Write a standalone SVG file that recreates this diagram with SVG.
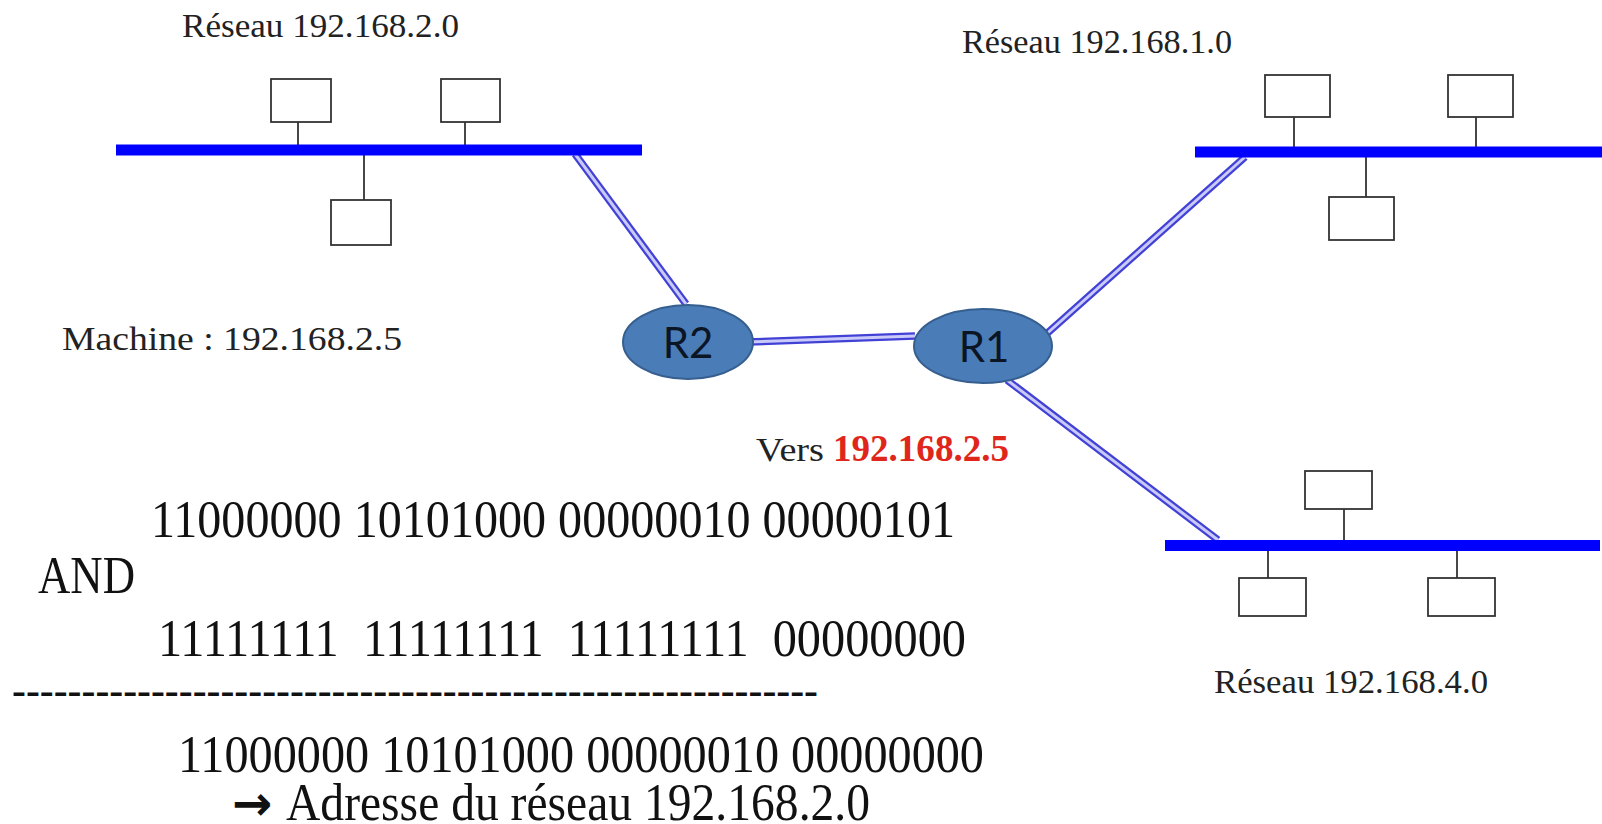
<svg xmlns="http://www.w3.org/2000/svg" width="1602" height="824" viewBox="0 0 1602 824">
<style>
.bg{fill:#ffffff}
.lbl{font-family:"Liberation Serif","Times New Roman",serif;font-size:34px;fill:#222}
.big{font-family:"Liberation Serif","Times New Roman",serif;font-size:53px;fill:#111}
.bus{stroke:#0000ff;stroke-width:11;fill:none}
.box{fill:#ffffff;stroke:#333;stroke-width:1.8}
.stem{stroke:#333;stroke-width:1.8;fill:none}
.lo{stroke:#4141d6;stroke-width:7.5;fill:none}
.li{stroke:#cacafa;stroke-width:3;fill:none}
.rt{fill:#4a7cb8;stroke:#365f8f;stroke-width:2}
.rl{font-family:Lato,"Open Sans",sans-serif;font-size:42px;fill:#0c1524}
.red{font-family:"Liberation Serif","Times New Roman",serif;fill:#e0261b;font-weight:bold;font-size:38px}
</style>
<rect class="bg" x="0" y="0" width="1602" height="824"/>

<g id="connectors">
  <path class="lo" d="M575,154 L686,304"/>
  <path class="li" d="M575,154 L686,304"/>
  <path class="lo" d="M747,342 L915,336"/>
  <path class="li" d="M747,342 L915,336"/>
  <path class="lo" d="M1043,337 L1245,157"/>
  <path class="li" d="M1043,337 L1245,157"/>
  <path class="lo" d="M1007,380 L1218,540"/>
  <path class="li" d="M1007,380 L1218,540"/>
</g>

<g id="net-192-168-2-0">
  <text class="lbl" x="182" y="37" textLength="277" lengthAdjust="spacingAndGlyphs">Réseau 192.168.2.0</text>
  <line class="stem" x1="298" y1="122" x2="298" y2="150"/>
  <line class="stem" x1="465" y1="122" x2="465" y2="150"/>
  <line class="stem" x1="364" y1="150" x2="364" y2="200"/>
  <rect class="box" x="271" y="79" width="60" height="43"/>
  <rect class="box" x="441" y="79" width="59" height="43"/>
  <rect class="box" x="331" y="200" width="60" height="45"/>
  <line class="bus" x1="116" y1="150" x2="642" y2="150"/>
</g>

<g id="net-192-168-1-0">
  <text class="lbl" x="962" y="53" textLength="270" lengthAdjust="spacingAndGlyphs">Réseau 192.168.1.0</text>
  <line class="stem" x1="1294" y1="117" x2="1294" y2="152"/>
  <line class="stem" x1="1476" y1="117" x2="1476" y2="152"/>
  <line class="stem" x1="1366" y1="152" x2="1366" y2="197"/>
  <rect class="box" x="1265" y="75" width="65" height="42"/>
  <rect class="box" x="1448" y="75" width="65" height="42"/>
  <rect class="box" x="1329" y="197" width="65" height="43"/>
  <line class="bus" x1="1195" y1="152" x2="1602" y2="152"/>
</g>

<g id="net-192-168-4-0">
  <line class="stem" x1="1344" y1="509" x2="1344" y2="545"/>
  <line class="stem" x1="1268" y1="545" x2="1268" y2="578"/>
  <line class="stem" x1="1457" y1="545" x2="1457" y2="578"/>
  <rect class="box" x="1305" y="471" width="67" height="38"/>
  <rect class="box" x="1239" y="578" width="67" height="38"/>
  <rect class="box" x="1428" y="578" width="67" height="38"/>
  <line class="bus" x1="1165" y1="545.5" x2="1600" y2="545.5"/>
  <text class="lbl" x="1214" y="693" textLength="274" lengthAdjust="spacingAndGlyphs">Réseau 192.168.4.0</text>
</g>

<g id="R2">
  <ellipse class="rt" cx="688" cy="342" rx="65" ry="37"/>
  <text class="rl" x="688" y="358" text-anchor="middle">R2</text>
</g>

<g id="R1">
  <ellipse class="rt" cx="983" cy="346" rx="69" ry="37"/>
  <text class="rl" x="984" y="362" text-anchor="middle">R1</text>
</g>

<g id="machine">
  <text class="lbl" x="62" y="350" textLength="340" lengthAdjust="spacingAndGlyphs">Machine : 192.168.2.5</text>
</g>

<g id="vers">
  <text class="lbl" x="756" y="461" font-size="35" textLength="68" lengthAdjust="spacingAndGlyphs">Vers</text>
  <text class="red" x="833" y="461" textLength="176" lengthAdjust="spacingAndGlyphs">192.168.2.5</text>
</g>

<g id="calcul">
  <text class="big" x="151" y="537" textLength="804" lengthAdjust="spacingAndGlyphs">11000000 10101000 00000010 00000101</text>
  <text class="big" x="38" y="593" textLength="97" lengthAdjust="spacingAndGlyphs">AND</text>
  <text class="big" x="158" y="656" xml:space="preserve" textLength="808" lengthAdjust="spacingAndGlyphs">11111111  11111111  11111111  00000000</text>
  <text x="12" y="704" font-family="'Liberation Serif',serif" font-size="40" font-weight="bold" fill="#111" textLength="806" lengthAdjust="spacingAndGlyphs">----------------------------------------------------------</text>
  <text class="big" x="178" y="772" textLength="806" lengthAdjust="spacingAndGlyphs">11000000 10101000 00000010 00000000</text>
  <text x="232" y="820" font-family="'DejaVu Sans',sans-serif" font-weight="bold" font-size="48" fill="#111">→</text>
  <text class="big" x="286" y="820" font-size="51" textLength="584" lengthAdjust="spacingAndGlyphs">Adresse du réseau 192.168.2.0</text>
</g>
</svg>
